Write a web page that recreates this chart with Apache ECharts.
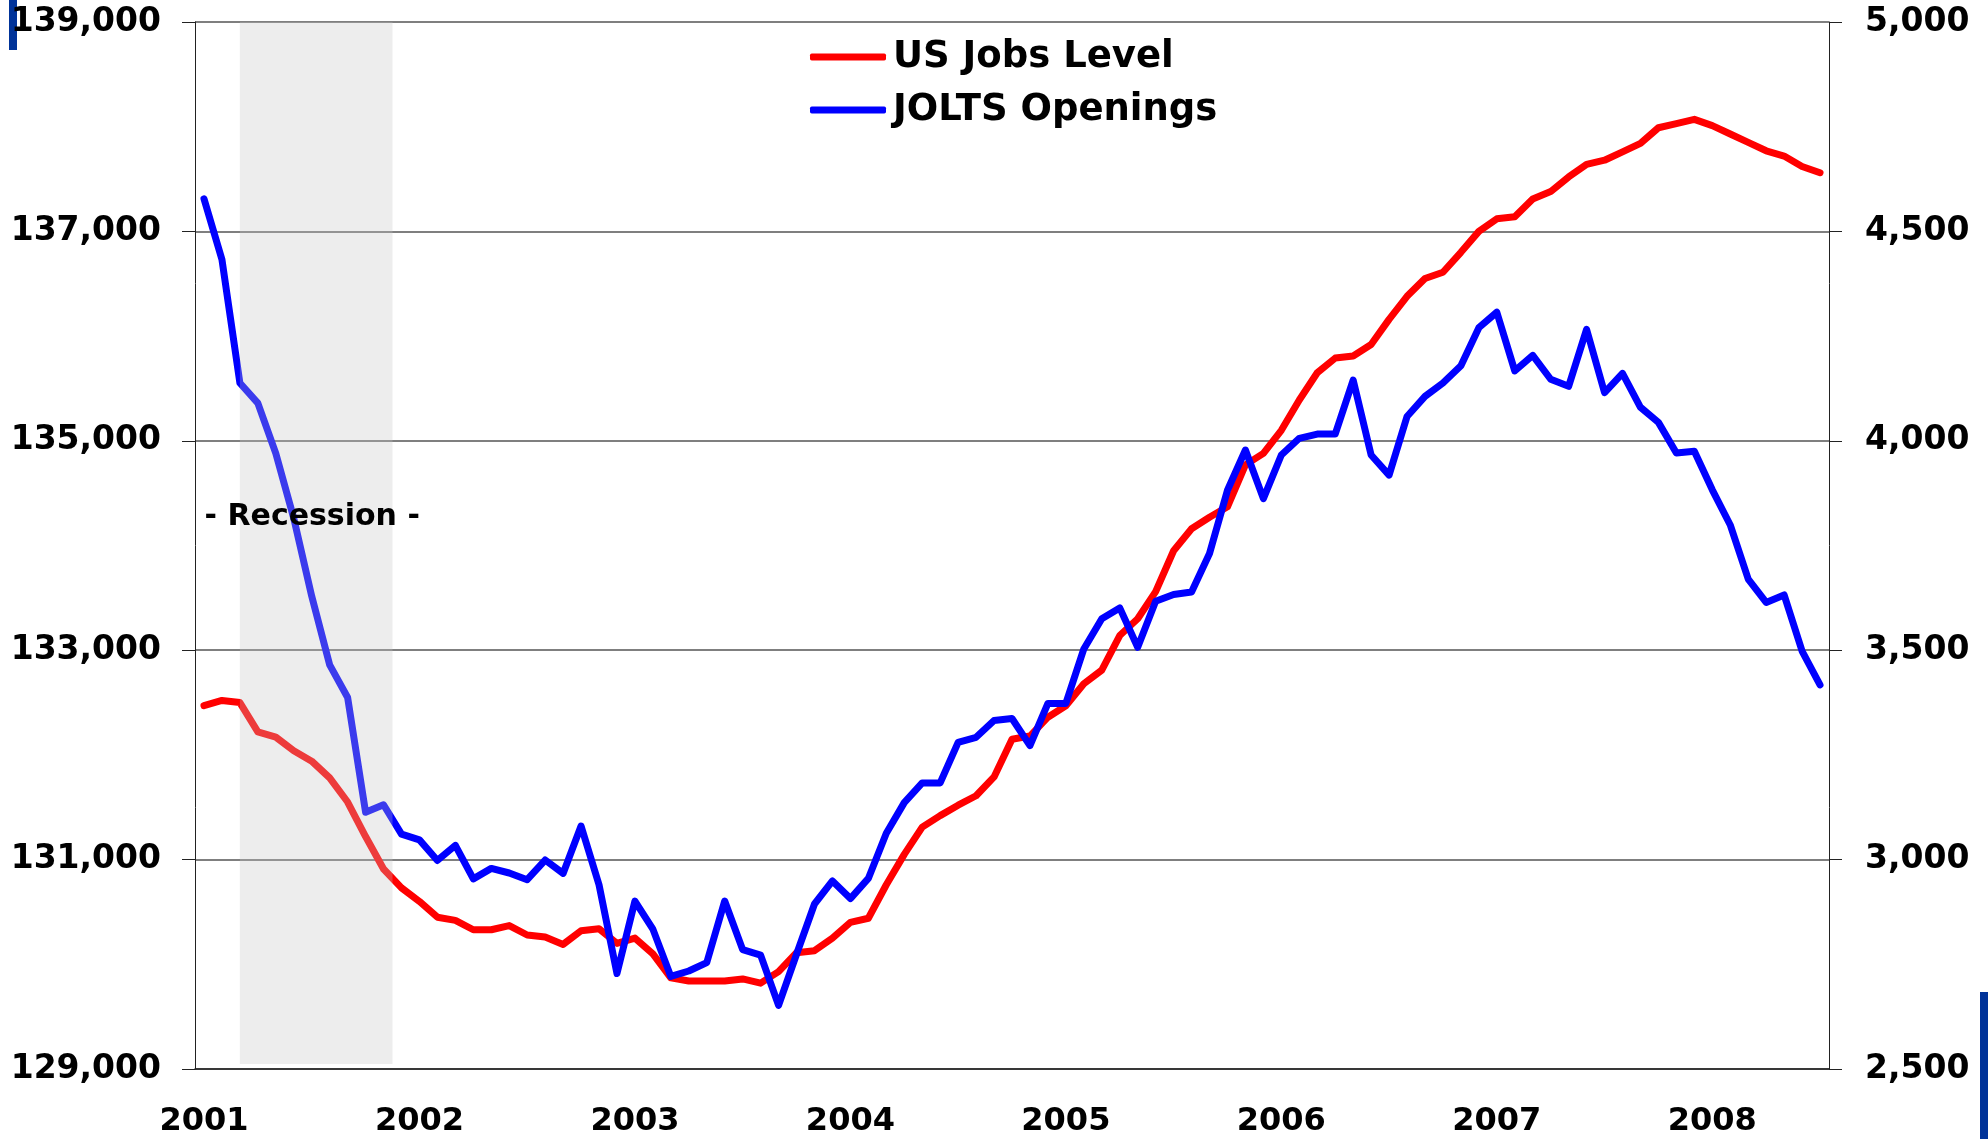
<!DOCTYPE html>
<html>
<head>
<meta charset="utf-8">
<title>US Jobs Level vs JOLTS Openings</title>
<script src="https://cdn.jsdelivr.net/npm/echarts@6/dist/echarts.min.js"></script>
<style>
  html, body { margin: 0; padding: 0; background: #ffffff; }
  #chart { width: 1988px; height: 1139px; }
</style>
</head>
<body>
<div id="chart"></div>
<script>
// monthly, Jan 2001 - Jul 2008
const startYear = 2001;
const monthCount = 91;
const months = [];
for (let i = 0; i < monthCount; i++) {
  const y = startYear + Math.floor(i / 12);
  const m = (i % 12) + 1;
  months.push(y + "-" + (m < 10 ? "0" + m : m));
}

// US payroll jobs level (thousands), left axis
const jobsLevel = [
  132470, 132520, 132500, 132220, 132170, 132040, 131940, 131780, 131550, 131220,
  130910, 130730, 130600, 130450, 130420, 130330, 130330, 130370, 130280, 130260,
  130190, 130320, 130340, 130200, 130250, 130100, 129870, 129840, 129840, 129840,
  129860, 129820, 129930, 130110, 130130, 130250, 130400, 130440, 130760, 131050,
  131310, 131420, 131520, 131610, 131790, 132150, 132180, 132360, 132470, 132680,
  132810, 133140, 133300, 133560, 133950, 134160, 134270, 134370, 134770, 134880,
  135100, 135390, 135650, 135790, 135810, 135920, 136160, 136380, 136550, 136610,
  136800, 137000, 137120, 137140, 137310, 137380, 137520, 137640, 137680, 137760,
  137840, 137990, 138030, 138070, 138010, 137930, 137850, 137770, 137720, 137620,
  137560
];

// JOLTS job openings (thousands), right axis
const joltsOpenings = [
  4578, 4433, 4138, 4090, 3970, 3815, 3629, 3465, 3387, 3113,
  3131, 3061, 3047, 2998, 3034, 2954, 2979, 2968, 2952, 2999,
  2967, 3080, 2940, 2728, 2901, 2834, 2721, 2734, 2754, 2901,
  2785, 2772, 2652, 2774, 2894, 2949, 2907, 2955, 3063, 3136,
  3183, 3183, 3280, 3292, 3332, 3337, 3272, 3373, 3373, 3503,
  3575, 3601, 3507, 3617, 3633, 3639, 3731, 3882, 3978, 3862,
  3966, 4006, 4016, 4016, 4145, 3966, 3918, 4058, 4106, 4138,
  4179, 4270, 4307, 4167, 4204, 4147, 4130, 4266, 4115, 4161,
  4080, 4044, 3971, 3975, 3883, 3799, 3670, 3614, 3632, 3498,
  3417
];

const recession = ["2001-03", "2001-11"];
const recessionLabel = "- Recession -";

const jobsTicks = { min: 129000, max: 139000, step: 2000 };
const openingsTicks = { min: 2500, max: 5000, step: 500 };

const FONT = '"DejaVu Sans", "Liberation Sans", Arial, sans-serif';

const chart = echarts.init(document.getElementById("chart"));

function fmt(v) {
  return String(v).replace(/\B(?=(\d{3})+(?!\d))/g, ",");
}

chart.setOption({
  backgroundColor: "#ffffff",
  animation: false,
  grid: { left: 195, right: 159, top: 22, bottom: 70 },
  legend: {
    data: ["US Jobs Level", "JOLTS Openings"],
    orient: "vertical",
    left: 805,
    top: 32,
    icon: "roundRect",
    itemWidth: 76,
    itemHeight: 7,
    itemGap: 13,
    textStyle: {
      fontFamily: FONT,
      fontWeight: "bold",
      fontSize: 37,
      lineHeight: 40,
      color: "#000000",
      padding: [0, 0, 0, 2]
    }
  },
  xAxis: [
    {
      type: "category",
      data: months,
      boundaryGap: true,
      position: "bottom",
      axisLine: { lineStyle: { color: "#222222", width: 1.5 } },
      axisTick: { interval: 2, length: 11, lineStyle: { color: "#222222", width: 1 } },
      axisLabel: {
        interval: 11,
        margin: 37,
        formatter: v => v.slice(0, 4),
        fontFamily: FONT,
        fontWeight: "bold",
        fontSize: 32,
        color: "#000000"
      },
      splitLine: { show: false }
    },
    {
      // upper half of the crossing tick marks
      type: "category",
      data: months,
      boundaryGap: true,
      position: "bottom",
      axisLine: { show: false },
      axisTick: { inside: true, interval: 2, length: 11, lineStyle: { color: "#222222", width: 1 } },
      axisLabel: { show: false },
      splitLine: { show: false }
    }
  ],
  yAxis: [
    {
      type: "value",
      position: "left",
      min: jobsTicks.min,
      max: jobsTicks.max,
      interval: jobsTicks.step,
      axisLine: { show: true, lineStyle: { color: "#222222", width: 1 } },
      axisTick: { show: true, length: 13, lineStyle: { color: "#222222" } },
      axisLabel: {
        margin: 34,
        formatter: fmt,
        fontFamily: FONT,
        fontWeight: "bold",
        fontSize: 33,
        color: "#000000"
      },
      splitLine: { lineStyle: { color: "#555555", width: 1.5 } }
    },
    {
      type: "value",
      position: "right",
      min: openingsTicks.min,
      max: openingsTicks.max,
      interval: openingsTicks.step,
      axisLine: { show: true, lineStyle: { color: "#222222", width: 1 } },
      axisTick: { show: true, length: 13, lineStyle: { color: "#222222" } },
      axisLabel: {
        margin: 36,
        formatter: fmt,
        fontFamily: FONT,
        fontWeight: "bold",
        fontSize: 33,
        color: "#000000"
      },
      splitLine: { show: false }
    }
  ],
  series: [
    {
      name: "US Jobs Level",
      type: "line",
      data: jobsLevel,
      yAxisIndex: 0,
      symbol: "none",
      color: "#ff0000",
      lineStyle: { color: "#ff0000", width: 7, cap: "round", join: "round" },
      z: 3
    },
    {
      name: "JOLTS Openings",
      type: "line",
      data: joltsOpenings,
      yAxisIndex: 1,
      symbol: "none",
      color: "#0000ff",
      lineStyle: { color: "#0000ff", width: 7, cap: "round", join: "round" },
      z: 4
    },
    {
      name: "Recession",
      type: "custom",
      yAxisIndex: 0,
      z: 6,
      silent: true,
      encode: { x: 0 },
      data: [[months.indexOf(recession[0]), months.indexOf(recession[1])]],
      renderItem: function (params, api) {
        const top = api.coord([api.value(0), jobsTicks.max]);
        const bot = api.coord([api.value(1), jobsTicks.min]);
        const half = api.size([1, 0])[0] / 2;
        const x0 = top[0];
        const x1 = bot[0] + half;
        const y0 = top[1];
        const y1 = bot[1] - 5;
        const ty = api.coord([api.value(0), 134270])[1];
        return {
          type: "group",
          children: [
            {
              type: "rect",
              shape: { x: x0, y: y0, width: x1 - x0, height: y1 - y0 },
              style: { fill: "rgba(197,197,197,0.3)" }
            },
            {
              type: "text",
              style: {
                text: recessionLabel,
                x: (x0 + x1) / 2 - 4,
                y: ty,
                align: "center",
                verticalAlign: "middle",
                font: "bold 30px " + FONT,
                fill: "#000000"
              }
            }
          ]
        };
      }
    }
  ],
  graphic: [
    { type: "rect", left: 9, top: 0, shape: { width: 8, height: 50 }, style: { fill: "#003399" } },
    { type: "rect", left: 1980, top: 992, shape: { width: 8, height: 147 }, style: { fill: "#003399" } }
  ]
});
</script>
</body>
</html>
